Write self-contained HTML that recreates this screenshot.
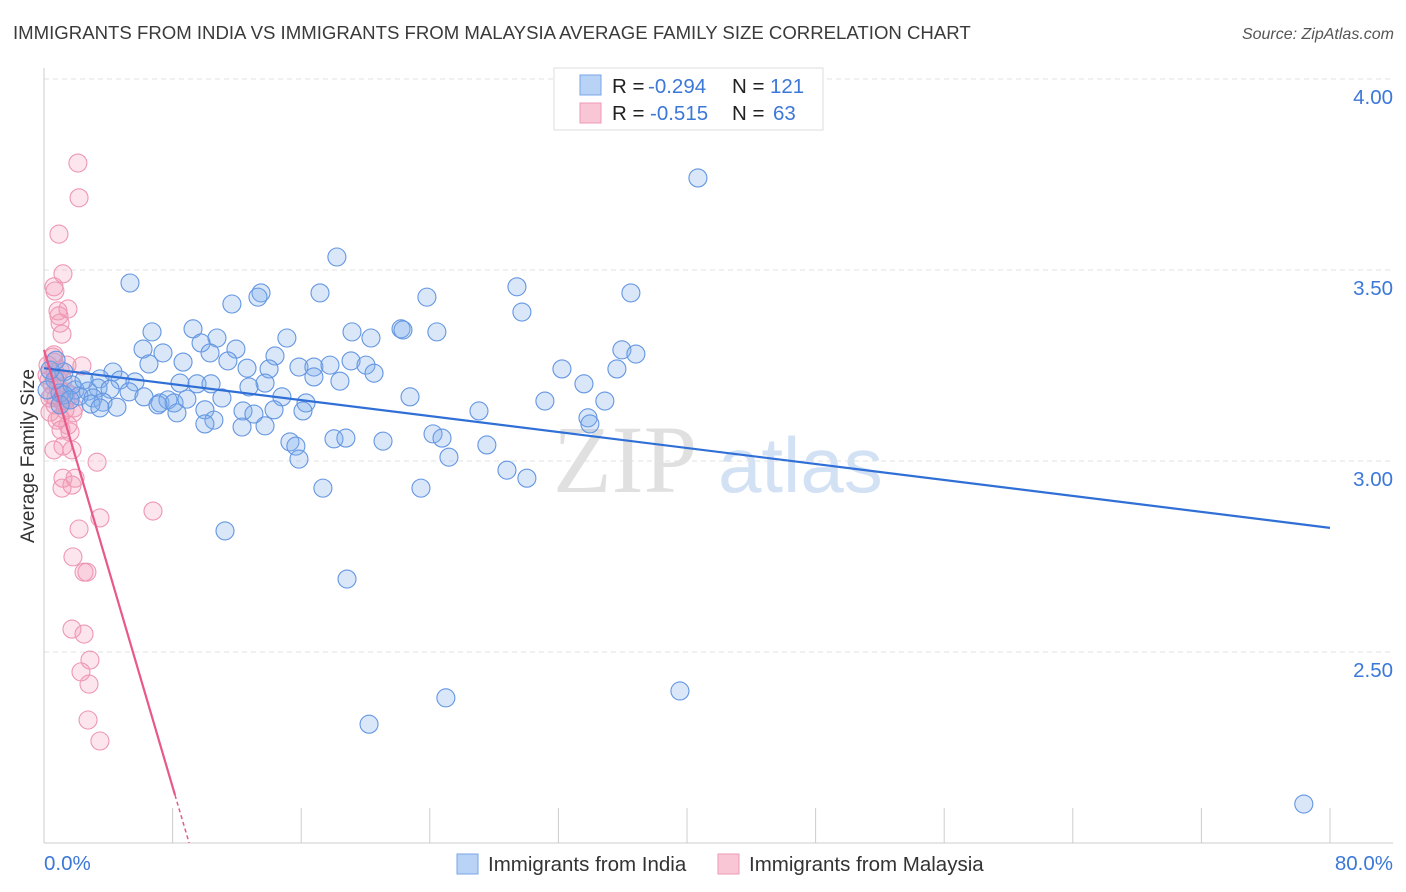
<!DOCTYPE html>
<html><head><meta charset="utf-8"><style>
body{margin:0;background:#fff;font-family:"Liberation Sans",sans-serif}
svg{display:block}
</style></head><body>
<svg id="chart" width="1406" height="892" viewBox="0 0 1406 892" xmlns="http://www.w3.org/2000/svg" font-family="Liberation Sans, sans-serif">
<text x="13" y="39" font-size="18.6" fill="#3a3a3a">IMMIGRANTS FROM INDIA VS IMMIGRANTS FROM MALAYSIA AVERAGE FAMILY SIZE CORRELATION CHART</text>
<text x="1394" y="39" font-size="16" fill="#555" font-style="italic" text-anchor="end">Source: ZipAtlas.com</text>
<g>
<text x="553" y="492" font-size="96" font-family="Liberation Serif, serif" fill="#e0e0e0">ZIP</text>
<text x="718" y="492" font-size="78" fill="#d3e1f4">atlas</text>
</g>
<g id="grid"></g>
<g id="axes"></g>
<g id="points"></g>
<g id="trends"></g>
<text transform="translate(34,456) rotate(-90)" font-size="19" fill="#333" text-anchor="middle">Average Family Size</text>
<g>
<rect x="554" y="68" width="269" height="62" fill="#fff" stroke="#ddd"/>
<rect x="580" y="75" width="21" height="20" fill="#b8d3f5" stroke="#7aa6e6"/>
<text x="612" y="93" font-size="20.5" fill="#222">R = </text><text x="648" y="93" font-size="20.5" fill="#3b78d8">-0.294</text>
<text x="732" y="93" font-size="20.5" fill="#222">N = </text><text x="770" y="93" font-size="20.5" fill="#3b78d8">121</text>
<rect x="580" y="103" width="21" height="20" fill="#f9c6d6" stroke="#ee99b4"/>
<text x="612" y="120" font-size="20.5" fill="#222">R = </text><text x="650" y="120" font-size="20.5" fill="#3b78d8">-0.515</text>
<text x="732" y="120" font-size="20.5" fill="#222">N = </text><text x="773" y="120" font-size="20.5" fill="#3b78d8">63</text>
</g>
<g>
<rect x="457" y="854" width="21" height="20" fill="#b8d3f5" stroke="#7aa6e6"/>
<text x="488" y="871" font-size="20.5" fill="#333">Immigrants from India</text>
<rect x="718" y="854" width="21" height="20" fill="#f9c6d6" stroke="#ee99b4"/>
<text x="749" y="871" font-size="20.5" fill="#333">Immigrants from Malaysia</text>
</g>
</svg>
<script>
const yTicks=[2.5,3.0,3.5,4.0];
const yTickLabels=["2.50","3.00","3.50","4.00"];
const xTicks=[0,8,16,24,32,40,48,56,64,72,80];
const xEndLabels=["0.0%","80.0%"];
const indiaX=[40.68,18.22,5.35,29.42,13.50,17.17,13.31,36.51,23.82,11.69,29.73,6.72,9.27,19.16,22.21,22.33,24.44,20.34,15.11,10.76,6.16,9.77,11.94,7.40,35.95,36.82,10.33,14.37,6.53,8.65,11.44,12.63,15.86,16.79,17.79,19.10,20.03,20.53,32.22,35.64,4.29,3.48,14.00,16.79,18.41,4.73,5.66,8.46,9.52,10.39,13.75,12.75,33.59,3.36,1.93,2.74,4.11,5.29,1.00,2.18,3.05,3.67,4.54,6.22,7.22,7.71,8.09,8.89,11.07,14.80,16.30,22.77,31.16,34.89,2.92,3.48,7.09,8.27,10.01,12.38,13.06,14.31,16.11,27.06,33.84,33.96,10.57,10.01,12.32,13.75,15.30,15.67,18.04,18.78,21.09,24.20,24.76,27.55,15.86,25.19,28.80,30.04,17.35,23.45,11.26,18.85,25.00,20.22,39.56,78.37,1.24,0.68,1.74,2.49,1.24,0.37,0.75,1.62,0.19,1.00];
const indiaY=[3.741,3.534,3.466,3.456,3.440,3.440,3.429,3.440,3.429,3.411,3.390,3.338,3.346,3.338,3.346,3.343,3.338,3.322,3.322,3.322,3.293,3.309,3.293,3.283,3.291,3.280,3.283,3.275,3.254,3.259,3.262,3.243,3.246,3.246,3.251,3.262,3.251,3.230,3.241,3.241,3.233,3.215,3.241,3.220,3.209,3.212,3.207,3.204,3.202,3.202,3.204,3.194,3.202,3.191,3.186,3.183,3.188,3.181,3.178,3.170,3.165,3.154,3.141,3.168,3.152,3.160,3.152,3.162,3.165,3.168,3.152,3.168,3.157,3.157,3.149,3.139,3.147,3.126,3.134,3.131,3.123,3.134,3.131,3.131,3.113,3.097,3.107,3.097,3.089,3.092,3.050,3.039,3.058,3.060,3.052,3.071,3.060,3.042,3.005,3.010,2.976,2.955,2.929,2.929,2.817,2.691,2.380,2.311,2.398,2.102,3.233,3.212,3.199,3.212,3.173,3.238,3.264,3.160,3.186,3.147];
const malX=[2.11,2.18,0.93,1.18,0.62,0.68,0.87,1.49,0.93,1.00,1.12,0.56,0.62,1.43,2.36,0.81,1.18,0.50,0.87,1.37,1.68,0.37,1.12,0.68,1.87,1.31,0.37,1.00,1.80,0.81,1.49,1.06,1.62,1.18,0.62,1.74,3.30,1.18,1.93,1.12,1.74,3.48,6.78,2.18,1.80,2.67,2.49,1.74,2.49,2.86,2.30,2.80,2.74,3.48,0.62,0.25,0.68,0.19,1.00,0.50,1.37,0.31,0.75];
const malY=[3.780,3.689,3.594,3.490,3.456,3.445,3.393,3.398,3.380,3.361,3.332,3.272,3.259,3.251,3.249,3.217,3.212,3.199,3.191,3.181,3.173,3.165,3.157,3.147,3.139,3.134,3.128,3.113,3.126,3.107,3.094,3.081,3.076,3.039,3.029,3.029,2.997,2.955,2.955,2.929,2.937,2.851,2.869,2.822,2.749,2.709,2.709,2.560,2.547,2.479,2.448,2.416,2.322,2.267,3.278,3.251,3.233,3.225,3.238,3.173,3.160,3.212,3.165];
const indiaTrend=[3.243,2.825];   // value at x=0 and x=80
const malTrend=[3.291,-0.143];    // intercept, slope per %
const NS="http://www.w3.org/2000/svg";
function X(v){return 44+v*(1286/80);}
function Y(v){return 461-(v-3)*382;}
function mk(tag,attrs,parent){const e=document.createElementNS(NS,tag);for(const k in attrs)e.setAttribute(k,attrs[k]);parent.appendChild(e);return e;}
const grid=document.getElementById('grid'),axes=document.getElementById('axes'),pts=document.getElementById('points'),tr=document.getElementById('trends');
yTicks.forEach((t,i)=>{
 const l=mk('line',{x1:44,x2:1393,y1:Y(t),y2:Y(t),stroke:'#e2e2e2','stroke-dasharray':'5,4'},grid);
 
 
 const tx=mk('text',{x:1393,y:Y(t)+25,'font-size':20.5,fill:'#3b78d8','text-anchor':'end'},axes);
 tx.textContent=yTickLabels[i];
 
 
});
const ax=mk('line',{x1:44,x2:44,y1:68,y2:843,stroke:'#ccc'},axes);


const bx=mk('line',{x1:44,x2:1393,y1:843,y2:843,stroke:'#ccc'},axes);


xTicks.forEach(t=>{
 const l=mk('line',{x1:X(t),x2:X(t),y1:808,y2:843,stroke:'#ccc'},axes);
 
 
});
const xl0=mk('text',{x:44,y:870,'font-size':20.5,fill:'#3b78d8'},axes);xl0.textContent=xEndLabels[0];


const xl1=mk('text',{x:1393,y:870,'font-size':20.5,fill:'#3b78d8','text-anchor':'end'},axes);xl1.textContent=xEndLabels[1];


malX.forEach((x,i)=>{
 const c=mk('circle',{cx:X(x),cy:Y(malY[i]),r:9,fill:'rgba(243,150,180,0.25)',stroke:'#ee97b4','stroke-width':1.1},pts);
 
 
});
indiaX.forEach((x,i)=>{
 const c=mk('circle',{cx:X(x),cy:Y(indiaY[i]),r:9,fill:'rgba(130,175,235,0.3)',stroke:'#6496e2','stroke-width':1.1},pts);
 
 
});
const bl=mk('line',{x1:X(0),y1:Y(indiaTrend[0]),x2:X(80),y2:Y(indiaTrend[1]),stroke:'#2f6fd6','stroke-width':2.2},tr);


const xs=8.15, xe=(2.0-malTrend[0])/malTrend[1];
const pl=mk('line',{x1:X(0),y1:Y(malTrend[0]),x2:X(xs),y2:Y(malTrend[0]+malTrend[1]*xs),stroke:'#e8588a','stroke-width':2.2},tr);


const pd=mk('line',{x1:X(xs),y1:Y(malTrend[0]+malTrend[1]*xs),x2:X(xe),y2:Y(2.0),stroke:'#e8588a','stroke-width':1.5,'stroke-dasharray':'4,3'},tr);


</script>
</body></html>
